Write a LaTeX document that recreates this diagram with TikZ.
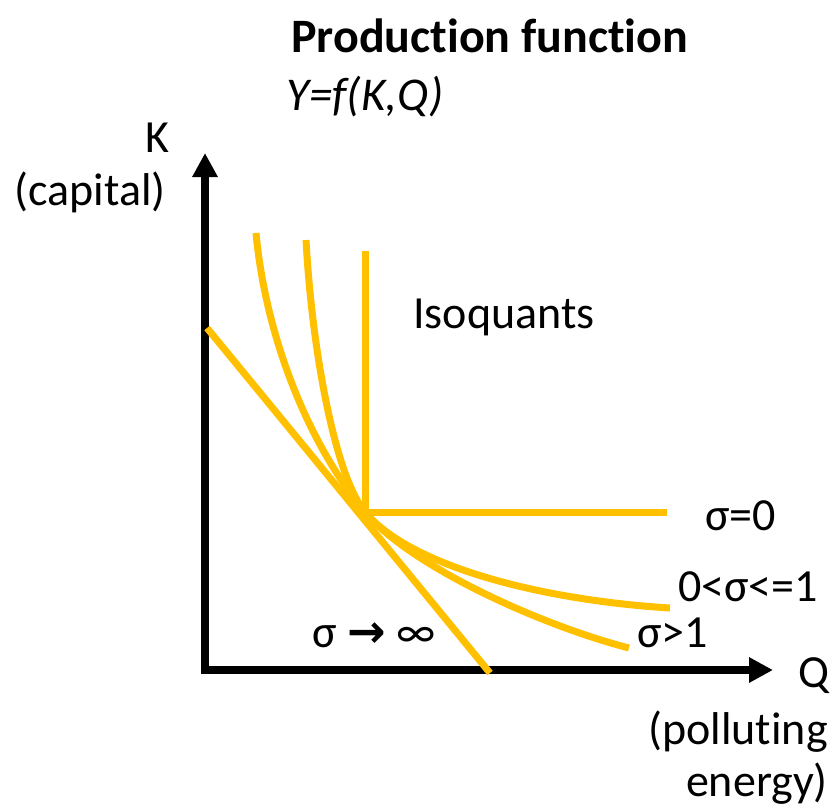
\documentclass[tikz,border=0pt]{standalone}
\usepackage{fontspec}
\setmainfont[RawFeature={-liga;-clig;-calt;-dlig}]{Carlito}
\newfontfamily\symfont{DejaVu Sans}
\usetikzlibrary{arrows.meta}
\definecolor{isoyellow}{HTML}{FFC000}
\begin{document}
\begin{tikzpicture}[x=1pt,y=-1pt,
  lbl/.style={inner sep=0pt,font=\fontsize{46}{55}\selectfont},
  axis/.style={line width=8pt,-{Triangle[length=24pt,width=24pt]}},
  iso/.style={draw=isoyellow,line width=7pt}]
\useasboundingbox (0,0) rectangle (835,807);
% axes
\coordinate (O) at (205,670);
\coordinate (Ktop) at (205,153);
\coordinate (Qend) at (773,670);
\draw[axis] ([yshift=-4pt]O) -- (Ktop);
\draw[axis] ([xshift=-4pt]O) -- (Qend);
% isoquants
\coordinate (T) at (365,512);
\coordinate (L0) at (365,251);
\coordinate (L1) at (667,512);
\draw[iso] (L0) -- (T) -- (L1);
\coordinate (S0) at (207,328);
\coordinate (S1) at (490,673);
\draw[iso] (S0) -- (S1);
\coordinate (C0) at (306,240);
\coordinate (C1) at (670,608);
\draw[iso] (C0) .. controls (312,350) and (335,476) .. (T)
               .. controls (410,566) and (540,600) .. (C1);
\coordinate (E0) at (256,233);
\coordinate (E1) at (629,648);
\draw[iso] (E0) .. controls (266,340) and (310,446) .. (T)
               .. controls (410,566) and (540,625) .. (E1);
% labels
\node[lbl,font=\fontsize{48}{55}\selectfont\bfseries,anchor=base west] (title) at (291,52) {Production function};
\node[lbl,font=\fontsize{47}{55}\selectfont\itshape,anchor=base west] (fun) at (286,110) {Y=f(K,Q)};
\node[lbl,anchor=base east] (K) at (170,152) {K};
\node[lbl,anchor=base east] (cap) at (166,205) {(capital)};
\node[lbl,anchor=base west] (isoq) at (413,328) {Isoquants};
\node[lbl,anchor=base west] (s0) at (705,530) {σ=0};
\node[lbl,anchor=base west] (s1) at (678,601) {0<σ<=1};
\node[lbl,anchor=base west] (s2) at (637,647) {σ>1};
\node[lbl,anchor=base west] (s3) at (312,647) {σ {\symfont\bfseries →} ∞};
\node[lbl,anchor=base east] (Q) at (830,687) {Q};
\node[lbl,anchor=base east] (pol) at (828,744) {(polluting};
\node[lbl,anchor=base east] (en) at (828,796) {energy)};
\end{tikzpicture}
\end{document}
